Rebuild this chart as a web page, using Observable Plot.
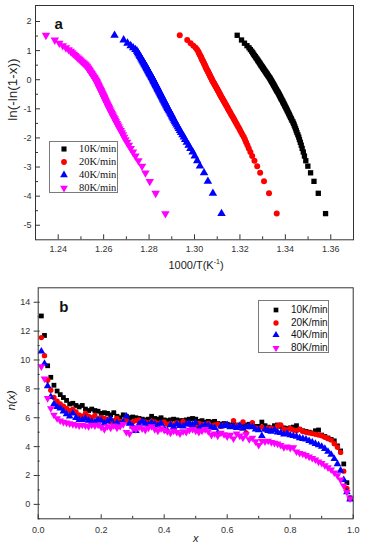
<!DOCTYPE html>
<html><head><meta charset="utf-8">
<script src="https://cdn.jsdelivr.net/npm/d3@7"></script>
<script src="https://cdn.jsdelivr.net/npm/@observablehq/plot@0.6"></script>
<style>
body{margin:0;background:#fff;font-family:"Liberation Sans",Arial,sans-serif;}
#wrap{position:relative;width:369px;height:549px;overflow:hidden;background:#fff;}
.panel{position:absolute;left:0;}
.legend{position:absolute;background:#fff;border:1px solid #7a7a7a;box-sizing:border-box;}
.legend .row{position:absolute;left:0;white-space:nowrap;line-height:1;}
.legend svg{position:absolute;overflow:visible;}
.xlab{position:absolute;font-size:11px;color:#222;white-space:nowrap;transform:translateX(-50%);}
.xlab sup{font-size:7px;vertical-align:5px;line-height:0;}
</style></head><body><div id="wrap"></div>
<script>
// ---- shared series info ----
const seriesNames = ["10K/min", "20K/min", "40K/min", "80K/min"];
const seriesColors = ["#000000", "#ff0000", "#0000ff", "#ff00ff"];
const seriesSymbols = ["square", "circle", "triangle", "triangle"];
const seriesRotate = [0, 0, 0, 180];

// ---- panel a: ln(-ln(1-x)) vs 1000/T ----
const lnY = [-4.600,-3.902,-3.491,-3.199,-2.970,-2.783,-2.623,-2.484,-2.361,-2.250,
-2.150,-2.057,-1.971,-1.892,-1.817,-1.747,-1.680,-1.617,-1.557,-1.500,
-1.445,-1.393,-1.342,-1.293,-1.246,-1.200,-1.156,-1.113,-1.071,-1.031,
-0.991,-0.953,-0.915,-0.878,-0.842,-0.807,-0.772,-0.738,-0.705,-0.672,
-0.639,-0.607,-0.576,-0.545,-0.514,-0.484,-0.454,-0.425,-0.396,-0.367,
-0.338,-0.309,-0.281,-0.253,-0.225,-0.197,-0.170,-0.142,-0.115,-0.087,
-0.060,-0.033,-0.006,0.021,0.049,0.076,0.103,0.131,0.158,0.186,
0.213,0.241,0.270,0.298,0.327,0.356,0.385,0.415,0.445,0.476,
0.507,0.539,0.572,0.606,0.640,0.676,0.713,0.752,0.792,0.834,
0.879,0.927,0.978,1.034,1.097,1.169,1.255,1.364,1.527];

const invT10 = [1.3577,1.3545,1.3526,1.3511,1.3499,1.3490,1.3484,1.3479,1.3474,1.3470,
1.3466,1.3462,1.3459,1.3455,1.3451,1.3448,1.3445,1.3442,1.3439,1.3436,
1.3433,1.3429,1.3426,1.3423,1.3420,1.3417,1.3415,1.3412,1.3409,1.3407,
1.3404,1.3402,1.3399,1.3397,1.3395,1.3392,1.3390,1.3388,1.3386,1.3383,
1.3381,1.3379,1.3377,1.3375,1.3373,1.3371,1.3369,1.3367,1.3364,1.3362,
1.3360,1.3358,1.3356,1.3354,1.3352,1.3350,1.3348,1.3346,1.3344,1.3342,
1.3340,1.3338,1.3336,1.3334,1.3332,1.3330,1.3327,1.3325,1.3322,1.3320,
1.3318,1.3315,1.3313,1.3310,1.3308,1.3305,1.3303,1.3300,1.3298,1.3295,
1.3292,1.3290,1.3287,1.3284,1.3281,1.3278,1.3275,1.3271,1.3268,1.3264,
1.3260,1.3256,1.3252,1.3246,1.3240,1.3231,1.3220,1.3207,1.3188];

const invT20 = [1.3362,1.3328,1.3306,1.3289,1.3276,1.3264,1.3254,1.3246,1.3239,1.3233,
1.3227,1.3222,1.3217,1.3211,1.3206,1.3201,1.3197,1.3192,1.3188,1.3184,
1.3180,1.3176,1.3173,1.3169,1.3166,1.3162,1.3159,1.3156,1.3153,1.3150,
1.3147,1.3145,1.3142,1.3139,1.3137,1.3134,1.3132,1.3129,1.3127,1.3124,
1.3122,1.3120,1.3117,1.3115,1.3113,1.3111,1.3109,1.3107,1.3105,1.3103,
1.3101,1.3099,1.3097,1.3095,1.3093,1.3091,1.3089,1.3087,1.3085,1.3083,
1.3081,1.3079,1.3077,1.3076,1.3074,1.3072,1.3070,1.3069,1.3067,1.3065,
1.3063,1.3062,1.3060,1.3058,1.3056,1.3054,1.3052,1.3050,1.3049,1.3047,
1.3045,1.3043,1.3041,1.3039,1.3037,1.3034,1.3032,1.3030,1.3028,1.3025,
1.3022,1.3019,1.3016,1.3011,1.3005,1.2995,1.2983,1.2968,1.2935];

const invT40 = [1.3119,1.3081,1.3059,1.3042,1.3024,1.3012,1.3001,1.2992,1.2982,1.2974,
1.2966,1.2959,1.2953,1.2947,1.2941,1.2936,1.2931,1.2927,1.2922,1.2918,
1.2914,1.2911,1.2907,1.2904,1.2901,1.2898,1.2895,1.2892,1.2889,1.2886,
1.2883,1.2881,1.2878,1.2876,1.2874,1.2871,1.2869,1.2867,1.2864,1.2862,
1.2860,1.2858,1.2856,1.2854,1.2852,1.2850,1.2848,1.2846,1.2844,1.2842,
1.2840,1.2838,1.2837,1.2835,1.2833,1.2831,1.2829,1.2827,1.2826,1.2824,
1.2822,1.2820,1.2818,1.2817,1.2815,1.2813,1.2811,1.2809,1.2807,1.2805,
1.2803,1.2801,1.2799,1.2797,1.2795,1.2793,1.2791,1.2789,1.2787,1.2785,
1.2782,1.2780,1.2777,1.2775,1.2772,1.2770,1.2767,1.2764,1.2761,1.2758,
1.2754,1.2751,1.2747,1.2740,1.2730,1.2719,1.2705,1.2688,1.2648];

const invT80 = [1.2872,1.2829,1.2803,1.2784,1.2769,1.2753,1.2740,1.2729,1.2719,1.2711,
1.2703,1.2696,1.2690,1.2685,1.2680,1.2675,1.2670,1.2666,1.2662,1.2658,
1.2654,1.2651,1.2648,1.2644,1.2641,1.2638,1.2635,1.2633,1.2630,1.2627,
1.2624,1.2622,1.2620,1.2618,1.2615,1.2613,1.2611,1.2609,1.2607,1.2605,
1.2603,1.2601,1.2600,1.2598,1.2596,1.2594,1.2592,1.2590,1.2589,1.2587,
1.2585,1.2583,1.2581,1.2580,1.2578,1.2576,1.2575,1.2573,1.2571,1.2569,
1.2568,1.2566,1.2564,1.2562,1.2560,1.2558,1.2555,1.2553,1.2551,1.2548,
1.2546,1.2544,1.2541,1.2539,1.2537,1.2534,1.2532,1.2529,1.2527,1.2524,
1.2521,1.2517,1.2512,1.2507,1.2502,1.2497,1.2492,1.2487,1.2481,1.2475,
1.2469,1.2462,1.2455,1.2446,1.2434,1.2420,1.2405,1.2385,1.2346];

const topXMajor = [1.24, 1.26, 1.28, 1.30, 1.32, 1.34, 1.36];
const topXMinor = [1.25, 1.27, 1.29, 1.31, 1.33, 1.35];
const topYMajor = [-5, -4, -3, -2, -1, 0, 1, 2];
const topYMinor = [-4.5, -3.5, -2.5, -1.5, -0.5, 0.5, 1.5];

// ---- panel b: n(x) vs x ----
const fracX = [0.01,0.02,0.03,0.04,0.05,0.06,0.07,0.08,0.09,0.10,
0.11,0.12,0.13,0.14,0.15,0.16,0.17,0.18,0.19,0.20,
0.21,0.22,0.23,0.24,0.25,0.26,0.27,0.28,0.29,0.30,
0.31,0.32,0.33,0.34,0.35,0.36,0.37,0.38,0.39,0.40,
0.41,0.42,0.43,0.44,0.45,0.46,0.47,0.48,0.49,0.50,
0.51,0.52,0.53,0.54,0.55,0.56,0.57,0.58,0.59,0.60,
0.61,0.62,0.63,0.64,0.65,0.66,0.67,0.68,0.69,0.70,
0.71,0.72,0.73,0.74,0.75,0.76,0.77,0.78,0.79,0.80,
0.81,0.82,0.83,0.84,0.85,0.86,0.87,0.88,0.89,0.90,
0.91,0.92,0.93,0.94,0.95,0.96,0.97,0.98,0.99];

const n10 = [13.05,11.70,9.60,8.80,8.25,7.85,7.60,7.40,7.20,6.95,
7.00,6.85,6.75,6.85,6.60,6.50,6.60,6.50,6.45,6.30,
6.35,6.30,6.20,6.35,6.10,6.00,6.20,6.10,6.00,6.05,
6.00,5.95,5.90,5.85,5.90,6.10,5.95,5.90,6.00,5.85,
5.80,5.85,5.90,5.85,5.80,5.80,5.85,5.90,5.95,5.90,
5.75,5.80,5.70,5.75,5.70,5.75,5.60,5.55,5.60,5.55,
5.50,5.55,5.50,5.45,5.50,5.50,5.55,5.45,5.40,5.40,
5.70,5.45,5.35,5.30,5.45,5.50,5.40,5.30,5.25,5.30,
5.35,5.45,5.20,5.10,5.05,5.00,4.95,5.10,5.15,4.80,
4.70,4.60,4.50,4.40,4.05,3.70,2.80,1.50,0.45];

const n20 = [11.55,10.30,8.60,7.90,7.40,7.15,6.95,6.80,6.65,6.50,
6.60,6.40,6.20,6.10,6.30,6.10,6.00,6.15,5.90,6.00,
5.95,5.90,5.70,5.80,5.95,5.75,5.70,5.80,5.65,5.70,
5.80,5.85,5.75,5.70,5.65,5.75,5.70,5.60,5.65,5.70,
5.55,5.60,5.50,5.65,5.55,5.75,5.60,5.55,5.50,5.45,
5.60,5.55,5.50,5.60,5.45,5.50,5.55,5.40,5.50,5.45,
5.40,5.80,5.45,5.35,5.70,4.95,5.40,5.65,5.30,5.25,
5.35,5.20,5.30,5.25,5.20,5.45,5.50,5.20,5.15,5.25,
5.15,5.10,5.20,5.05,5.00,4.95,4.90,4.85,4.80,4.75,
4.65,4.55,4.45,4.20,3.95,3.60,2.30,1.10,0.40];

const n40 = [10.60,9.75,8.20,7.45,6.95,6.75,6.65,6.45,6.25,6.10,
6.30,6.00,5.85,5.85,5.95,5.80,5.75,5.70,5.85,5.80,
5.60,5.75,5.90,5.50,5.65,5.55,5.70,6.10,5.60,5.40,
5.10,5.55,5.75,5.60,5.50,5.65,5.55,5.45,5.60,5.25,
5.10,5.50,5.35,5.55,5.45,5.40,5.55,5.60,5.50,5.65,
5.25,5.40,5.50,5.45,5.35,5.30,4.95,5.40,5.45,5.50,
5.35,5.40,5.30,5.45,5.25,5.35,5.40,5.35,5.20,5.15,
4.75,5.20,5.10,5.05,5.15,5.00,4.95,4.85,4.90,4.80,
4.75,4.70,4.60,4.55,4.50,4.40,4.30,4.20,4.10,4.00,
3.85,3.65,3.45,3.15,2.80,2.35,1.70,0.85,0.35];

const n80 = [9.55,8.70,7.35,6.65,6.20,5.95,5.80,5.70,5.65,5.60,
5.55,5.50,5.45,5.50,5.45,5.40,5.50,5.45,5.50,5.35,
5.20,5.40,5.30,5.45,5.30,5.40,5.55,5.00,4.90,5.30,
5.20,5.35,5.25,5.15,5.30,5.40,5.20,5.10,5.25,5.15,
5.05,4.95,5.10,5.00,4.90,5.05,5.00,5.15,5.20,5.10,
5.00,5.10,5.20,5.05,4.80,4.90,4.75,4.95,4.85,4.70,
4.80,4.55,4.90,4.75,4.60,4.85,4.50,4.60,4.35,4.10,
4.40,4.35,4.40,4.30,4.25,4.20,4.10,3.95,4.00,3.90,
3.95,3.65,3.55,3.50,3.40,3.30,3.20,3.10,2.95,2.85,
2.70,2.55,2.40,2.20,2.00,1.70,1.30,0.85,0.40];

const botXMajor = [0, 0.2, 0.4, 0.6, 0.8, 1.0];
const botXMinor = [0.1, 0.3, 0.5, 0.7, 0.9];
const botYMajor = [0, 2, 4, 6, 8, 10, 12, 14];
const botYMinor = [-1, 1, 3, 5, 7, 9, 11, 13];

// ---- build ----
const wrap = document.getElementById("wrap");
const baseStyle = {background: "transparent", fontFamily: '"Liberation Sans", Arial, sans-serif', fontSize: "9px", color: "#333", overflow: "visible"};

function seriesDots(xsList, ysList, r) {
  return xsList.map((xs, s) => {
    const ys = ysList[s];
    const rows = xs.map((v, i) => ({x: v, y: ys[i]}));
    return Plot.dot(rows, {x: "x", y: "y", symbol: seriesSymbols[s], fill: seriesColors[s], stroke: "none",
      r: seriesSymbols[s] === "triangle" ? r * 1.05 : r, rotate: seriesRotate[s]});
  });
}

// Panel a
const aW = 369, aH = 275, aML = 35, aMR = 16, aMT = 5, aMB = 35.7;
const aIW = aW - aML - aMR, aIH = aH - aMT - aMB;
const plotA = Plot.plot({
  width: aW, height: aH, marginLeft: aML, marginRight: aMR, marginTop: aMT, marginBottom: aMB,
  x: {domain: [1.23, 1.37]},
  y: {domain: [-5.5, 2.55]},
  style: baseStyle,
  marks: [
    Plot.tickX(topXMinor, {x: d => d, insetTop: aIH - 3, stroke: "#333"}),
    Plot.tickX(topXMajor, {x: d => d, insetTop: aIH - 5, stroke: "#333"}),
    Plot.tickY(topYMinor, {y: d => d, insetRight: aIW - 3, stroke: "#333"}),
    Plot.tickY(topYMajor, {y: d => d, insetRight: aIW - 5, stroke: "#333"}),
    Plot.axisX({ticks: topXMajor, tickSize: 0, tickPadding: 6, tickFormat: d3.format(".2f"), label: null, fill: "#333"}),
    Plot.axisY({ticks: topYMajor, tickSize: 0, tickPadding: 4, tickFormat: d => String(d), label: null, fill: "#333"}),
    ...seriesDots([invT10, invT20, invT40, invT80], [lnY, lnY, lnY, lnY], 3),
    Plot.frame({stroke: "#333"}),
    Plot.text(["a"], {frameAnchor: "top-left", dx: 19, dy: 13, fontWeight: "bold", fontSize: 15, fill: "#111"}),
    Plot.text(["ln(-ln(1-x))"], {frameAnchor: "left", dx: -23, dy: -2, rotate: -90, fontSize: 13.5, fill: "#222"})
  ]
});
const pa = document.createElement("div"); pa.className = "panel"; pa.style.top = "0px";
pa.appendChild(plotA); wrap.appendChild(pa);

// Panel b
const bTop = 275;
const bW = 369, bH = 274, bML = 37.7, bMR = 16.3, bMT = 12.3, bMB = 30.7;
const bIW = bW - bML - bMR, bIH = bH - bMT - bMB;
const plotB = Plot.plot({
  width: bW, height: bH, marginLeft: bML, marginRight: bMR, marginTop: bMT, marginBottom: bMB,
  x: {domain: [0, 1]},
  y: {domain: [-1, 15]},
  style: baseStyle,
  marks: [
    Plot.tickX(botXMinor, {x: d => d, insetTop: bIH - 2.5, stroke: "#333"}),
    Plot.tickX(botXMajor, {x: d => d, insetTop: bIH - 4, stroke: "#333"}),
    Plot.tickY(botYMinor, {y: d => d, insetRight: bIW - 2, stroke: "#333"}),
    Plot.tickY(botYMajor, {y: d => d, insetRight: bIW - 2, stroke: "#333"}),
    Plot.axisX({ticks: botXMajor, tickSize: 0, tickPadding: 8, tickFormat: d3.format(".1f"), label: null, fill: "#333"}),
    Plot.axisY({ticks: botYMajor, tickSize: 4, tickPadding: 4, tickFormat: d => String(d), label: null, fill: "#333", stroke: "#333"}),
    ...seriesDots([n10, n20, n40, n80].map(() => fracX), [n10, n20, n40, n80], 2.7),
    Plot.frame({stroke: "#333"}),
    Plot.text(["b"], {frameAnchor: "top-left", dx: 21, dy: 14, fontWeight: "bold", fontSize: 15, fill: "#111"}),
    Plot.text(["n(x)"], {frameAnchor: "left", dx: -27, dy: 7, rotate: -90, fontSize: 11.5, fontStyle: "italic", fill: "#222"}),
    Plot.text(["x"], {frameAnchor: "bottom", dy: 23, fontSize: 11, fontStyle: "italic", fill: "#222"})
  ]
});
const pb = document.createElement("div"); pb.className = "panel"; pb.style.top = bTop + "px";
pb.appendChild(plotB); wrap.appendChild(pb);

// x label of panel a (with superscript)
const xl = document.createElement("div"); xl.className = "xlab";
xl.style.left = "196px"; xl.style.top = "259px";
xl.innerHTML = "1000/T(K<sup>-1</sup>)";
wrap.appendChild(xl);

// legends
function symbolPath(s, size) {
  const t = seriesSymbols[s] === "square" ? d3.symbolSquare : seriesSymbols[s] === "circle" ? d3.symbolCircle : d3.symbolTriangle;
  return d3.symbol(t, size)();
}
function makeLegend(box, rowsY, markX, textX, font, fontSize, symSize) {
  const lg = document.createElement("div"); lg.className = "legend";
  Object.assign(lg.style, {left: box[0] + "px", top: box[1] + "px", width: box[2] + "px", height: box[3] + "px"});
  seriesNames.forEach((name, s) => {
    const svg = d3.create("svg").attr("width", 10).attr("height", 10)
      .style("left", (markX - 5) + "px").style("top", (rowsY[s] - 5) + "px");
    svg.append("path").attr("d", symbolPath(s, symSize)).attr("fill", seriesColors[s])
      .attr("transform", `translate(5,5) rotate(${seriesRotate[s]})`);
    lg.appendChild(svg.node());
    const t = document.createElement("div"); t.className = "row"; t.textContent = name;
    Object.assign(t.style, {left: textX + "px", top: (rowsY[s] - fontSize / 2) + "px", fontFamily: font, fontSize: fontSize + "px", color: "#111"});
    lg.appendChild(t);
  });
  wrap.appendChild(lg);
}
makeLegend([49, 141, 69, 52], [7, 20, 33, 46], 14, 29, '"Liberation Serif", "Times New Roman", serif', 10.5, 26);
makeLegend([258, 300, 71, 53], [9, 21.5, 34, 46.5], 17, 32, '"Liberation Sans", Arial, sans-serif', 10, 22);
</script>
</body></html>
